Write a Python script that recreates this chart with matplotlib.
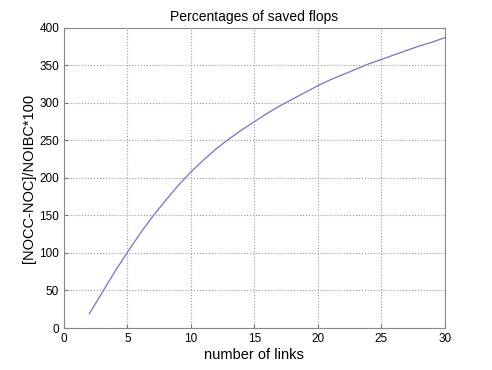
import matplotlib
matplotlib.use("Agg")
from matplotlib import pyplot as plt

plt.rcParams['font.family'] = ['Liberation Sans', 'DejaVu Sans']

# number of links vs percentage of saved flops
links = list(range(2, 31))
saved = [19, 47, 75, 101, 126, 149, 170, 190, 208, 224, 239, 252, 264, 275,
         286, 296, 305, 314, 323, 331, 338, 345, 352, 358, 364, 370, 376, 381, 387]

fig = plt.figure(figsize=(4.92, 3.70), dpi=100)
ax = fig.add_axes([0.130, 0.1135, 0.774, 0.811])

ax.plot(links, saved, color="#7a6fd2", linewidth=0.9)

ax.set_xlim(0, 30)
ax.set_ylim(0, 400)
ax.set_xticks(range(0, 31, 5))
ax.set_yticks(range(0, 401, 50))
ax.grid(True, linestyle=":", color="#999999", linewidth=0.8)
ax.tick_params(direction="in", labelsize=8.5, length=3, color="#777777")
for s in ax.spines.values():
    s.set_color("#888888")

ax.set_title("Percentages of saved flops", fontsize=10, pad=5)
ax.set_xlabel("number of links", fontsize=10.5, labelpad=2)
ax.set_ylabel("[NOCC-NOC]/NOIBC*100", fontsize=10.5, labelpad=2)

fig.savefig("out.png", dpi=100)
